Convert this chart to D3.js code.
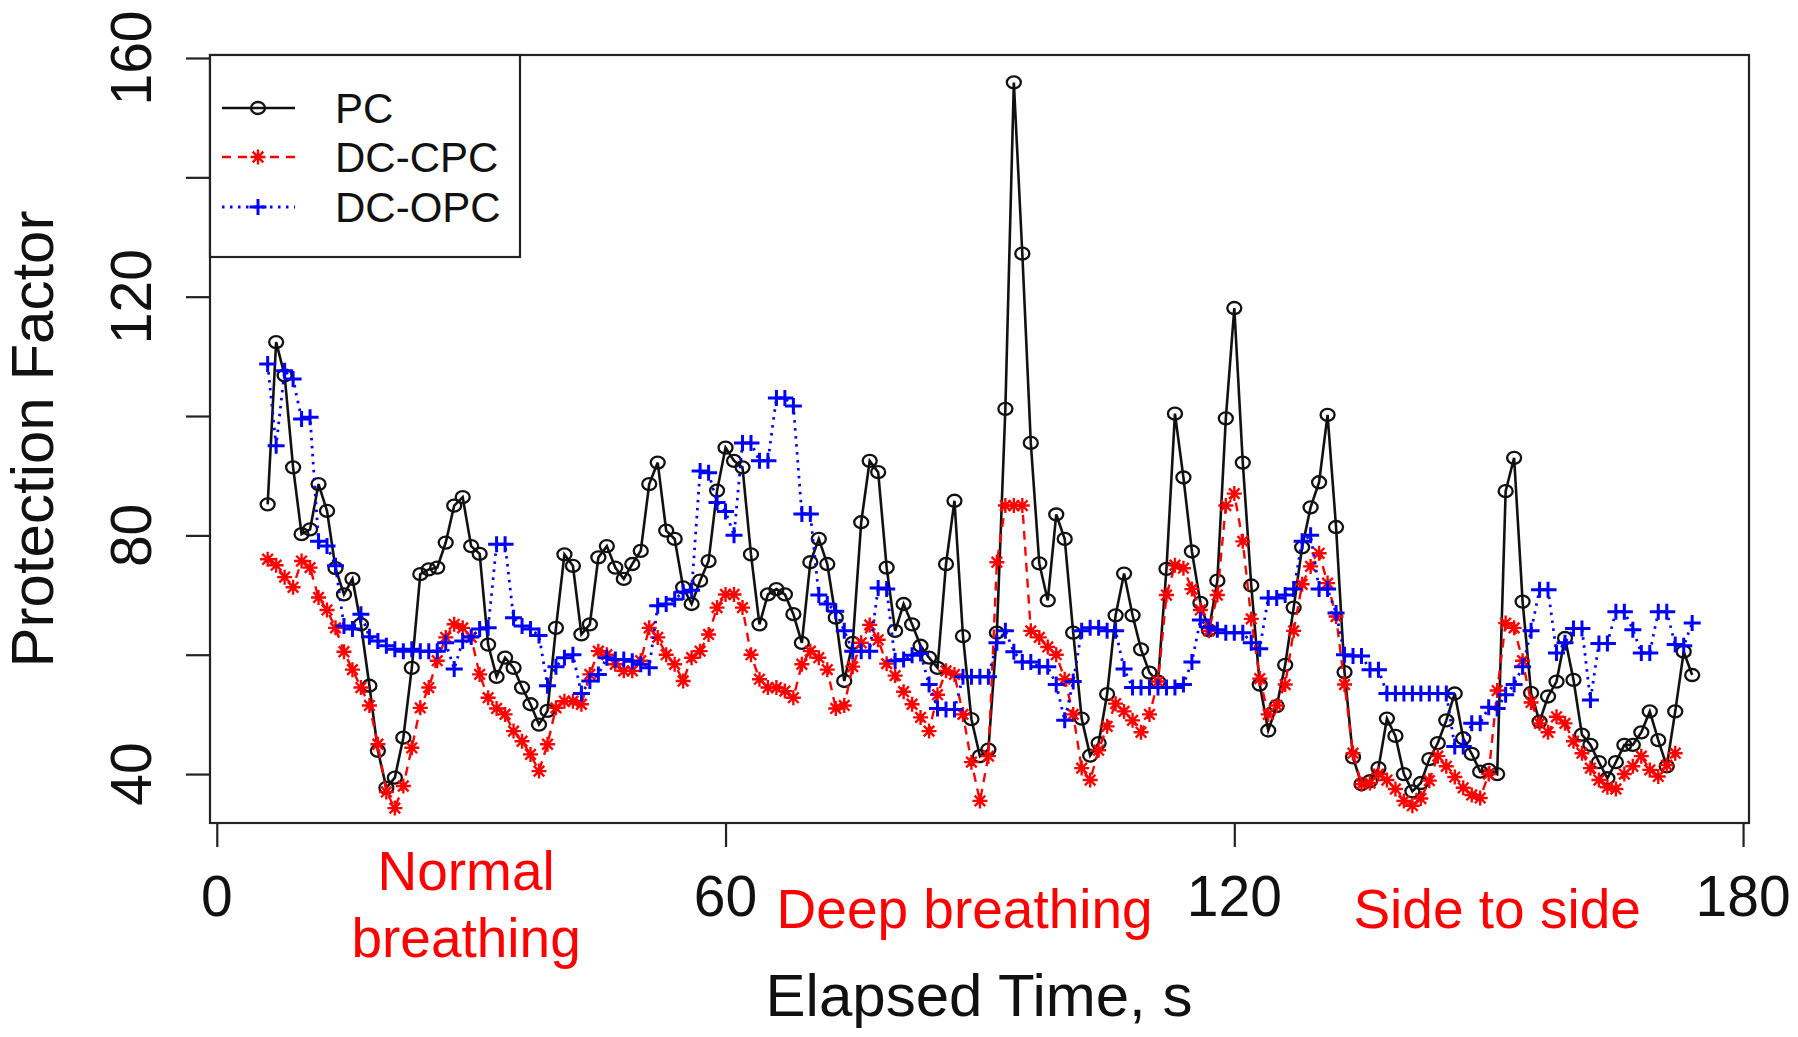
<!DOCTYPE html>
<html>
<head>
<meta charset="utf-8">
<script src="https://cdn.jsdelivr.net/npm/d3@7"></script>
<style>
  html, body { margin: 0; padding: 0; background: #ffffff; }
  svg { display: block; }
  text { font-family: "Liberation Sans", Arial, Helvetica, sans-serif; }
</style>
</head>
<body>
<svg id="chart" width="1798" height="1037"></svg>
<script>
// ---------------- data ----------------
const seriesNames = ["PC", "DC-CPC", "DC-OPC"];

const time = [
  6,7,8,9,10,11,12,13,14,15,16,17,18,19,20,21,22,23,24,25,26,27,28,29,30,31,32,33,34,35,
  36,37,38,39,40,41,42,43,44,45,46,47,48,49,50,51,52,53,54,55,56,57,58,59,60,61,62,63,64,65,
  66,67,68,69,70,71,72,73,74,75,76,77,78,79,80,81,82,83,84,85,86,87,88,89,90,91,92,93,94,95,
  96,97,98,99,100,101,102,103,104,105,106,107,108,109,110,111,112,113,114,115,116,117,118,119,120,121,122,123,124,125,
  126,127,128,129,130,131,132,133,134,135,136,137,138,139,140,141,142,143,144,145,146,147,148,149,150,151,152,153,154,155,
  156,157,158,159,160,161,162,163,164,165,166,167,168,169,170,171,172,173,174
];

const pc = [
  85.2,112.4,106.8,91.4,80.2,81.0,88.6,84.1,74.5,70.1,72.7,65.1,54.8,43.9,37.7,39.4,46.1,57.8,73.5,74.3,74.6,78.8,85.0,86.4,78.2,76.9,61.7,56.3,59.5,57.8,
  54.5,51.7,48.3,50.6,64.5,76.8,74.9,63.4,65.1,76.3,78.2,74.6,72.7,75.2,77.4,88.6,92.2,80.8,79.4,71.3,68.5,72.4,75.7,87.5,94.7,92.5,91.4,76.8,65.1,70.1,
  71.0,70.1,66.8,62.0,75.5,79.4,75.2,66.2,55.6,62.0,82.2,92.5,90.6,74.6,64.0,68.5,65.1,61.5,59.5,57.8,75.2,85.8,63.1,49.2,43.0,44.1,63.7,101.2,155.9,127.2,
  95.5,75.3,69.1,83.5,79.4,63.7,49.3,43.1,45.2,53.4,66.6,73.6,66.6,60.9,57.0,55.5,74.4,100.4,89.7,77.3,68.7,64.1,72.4,99.6,118.1,92.2,71.6,55.0,47.3,51.4,
  58.3,67.9,78.0,84.7,88.9,100.2,81.4,57.1,42.8,38.3,38.8,41.0,49.3,46.4,40.0,37.1,38.5,42.5,45.2,49.0,53.5,46.0,43.4,40.4,40.7,40.0,87.4,93.0,68.9,53.6,
  48.8,53.0,55.5,62.8,55.8,46.6,44.9,42.0,39.3,42.0,44.9,44.9,47.0,50.5,45.7,41.3,50.5,60.5,56.6
];

const dcCpc = [
  76,75,73,71.3,75.7,74.6,69.6,67.5,64.5,60.5,57.5,54.5,51.5,45,37,34.3,38,44.4,51.1,54.5,59,62.9,65.1,64.5,62.9,56.7,52.8,51,50,47.2,
  45.5,43.3,40.5,45,51.1,52.2,52.2,51.7,56.7,60.6,60,58.4,57.3,57.3,59,64.5,62.9,60,58.4,55.6,59.5,60.6,63.4,67.9,70.1,70.1,67.9,60,55.9,54.5,
  54.5,53.9,52.8,58.4,60.6,59.5,57.5,51,51.5,58,62,65,62.5,58.5,56.5,53.8,51.7,49.5,47.2,53.3,57.3,56.7,50,42,35.5,43,75.5,85,85,85,
  64,62.9,61.3,60,55.9,50,41,39,44,48,51.8,50.5,49,47,50,55.5,70,75,74.5,71,67.5,64,70,85,87,79,66,56,50,51.5,
  55,64,71.8,74.8,77,72,66.4,55,43.5,38.3,38.5,40,39,37.5,35.5,34.7,35.9,38.9,43,41.3,39.5,37.7,36.5,36,40,54,65.3,64.5,59,52,
  48.5,47,49.6,48.5,45.5,43.5,41,39,37.8,37.5,40,41.3,43,40.7,39.6,41.5,43.5,null,null
];

const dcOpc = [
  108.7,95,107.6,106.2,99.5,99.8,79,78.2,74.9,64.8,64.3,66.8,63,62.3,61.5,60.9,60.6,60.9,60.6,60.6,60.6,62,57.6,62.3,63,64.3,64.5,78.5,78.5,66.2,
  64.8,64.3,63.2,54.8,58,59.5,60,53.5,55.6,56.7,59.5,59.2,59.2,58.9,58.4,57.8,68.2,68.5,69.3,70.5,70.8,90.8,90.5,85.5,84,80,95.5,95.5,92.5,92.5,
  103,103,101.7,83.6,83.6,70,68.5,67.3,64,60.6,60.6,60.6,71.2,71,59,59.2,59.9,60.2,55,51,50.8,50.8,56.3,56.3,56.3,56.3,62,64,60.5,58.8,
  58.8,58,58,55,49,55.5,64,64.5,64.5,64,64,57.6,54.5,54.5,54.5,54.5,54.5,54.5,55,58.8,65.8,64.6,64.2,63.7,63.7,63.7,62,61,69.5,69.5,
  70,71,79,80,71,71,67,60,59.8,59.8,57.5,57.5,53.5,53.5,53.5,53.5,53.5,53.5,53.5,53.5,44.6,44.6,48.5,48.5,51.2,51,53.3,55,58,64,
  70.9,70.9,60.3,62,64.4,64.4,52.4,61.9,61.9,67.2,67.2,64.2,60.3,60.3,67.2,67.2,61.7,61.5,65.3
];

const xTicks = [0, 60, 120, 180];
const yTicks = [40, 60, 80, 100, 120, 140, 160];
const yTickLabels = [40, 80, 120, 160];
const xLim = [-0.8, 180.7];
const yLim = [31.8, 160.5];

const phaseLines = [["Normal", "breathing"], ["Deep breathing"], ["Side to side"]];
const phaseCenters = [29.4, 88.2, 151.0];   // seconds

// ---------------- layout ----------------
const svg = d3.select("#chart");
svg.append("rect").attr("width", 1798).attr("height", 1037).attr("fill", "#fff");

const box = { left: 210, right: 1749, top: 55, bottom: 823 };
const x = d3.scaleLinear().domain(xLim).range([box.left, box.right]);
const y = d3.scaleLinear().domain(yLim).range([box.bottom, box.top]);

const rows = time.map((t, i) => ({ t, pc: pc[i], cpc: dcCpc[i], opc: dcOpc[i] }));

// ---------------- series ----------------
const plot = svg.append("g");

function lineFor(key) {
  return d3.line().defined(d => d[key] != null).x(d => x(d.t)).y(d => y(d[key]));
}

const starPath = "M-7.5,0H7.5M0,-7.5V7.5M-5.3,-5.3L5.3,5.3M-5.3,5.3L5.3,-5.3";
const plusPath = "M-8.5,0H8.5M0,-8V8";

// PC
plot.append("path").datum(rows).attr("d", lineFor("pc"))
  .attr("fill", "none").attr("stroke", "#111").attr("stroke-width", 2.6);
plot.append("g").selectAll("ellipse").data(rows.filter(d => d.pc != null)).join("ellipse")
  .attr("cx", d => x(d.t)).attr("cy", d => y(d.pc)).attr("rx", 7).attr("ry", 6)
  .attr("fill", "none").attr("stroke", "#111").attr("stroke-width", 2.3);

// DC-CPC
plot.append("path").datum(rows).attr("d", lineFor("cpc"))
  .attr("fill", "none").attr("stroke", "#ff0000").attr("stroke-width", 2.4)
  .attr("stroke-dasharray", "9,7");
plot.append("g").selectAll("path").data(rows.filter(d => d.cpc != null)).join("path")
  .attr("transform", d => `translate(${x(d.t)},${y(d.cpc)})`)
  .attr("d", starPath).attr("stroke", "#ff0000").attr("stroke-width", 2.4).attr("fill", "none");

// DC-OPC
plot.append("path").datum(rows).attr("d", lineFor("opc"))
  .attr("fill", "none").attr("stroke", "#0000ff").attr("stroke-width", 2.8)
  .attr("stroke-dasharray", "2.5,5.5");
plot.append("g").selectAll("path").data(rows.filter(d => d.opc != null)).join("path")
  .attr("transform", d => `translate(${x(d.t)},${y(d.opc)})`)
  .attr("d", plusPath).attr("stroke", "#0000ff").attr("stroke-width", 3).attr("fill", "none");

// ---------------- box & axes ----------------
svg.append("rect")
  .attr("x", box.left).attr("y", box.top)
  .attr("width", box.right - box.left).attr("height", box.bottom - box.top)
  .attr("fill", "none").attr("stroke", "#222").attr("stroke-width", 2.2);

const gx = svg.append("g").attr("transform", `translate(0,${box.bottom})`)
  .call(d3.axisBottom(x).tickValues(xTicks).tickSize(24).tickSizeOuter(0).tickFormat(""));
gx.select(".domain").remove();
gx.selectAll(".tick line").attr("stroke", "#222").attr("stroke-width", 2.2);
svg.append("line").attr("x1", x(xTicks[0])).attr("x2", x(xTicks[xTicks.length - 1]))
  .attr("y1", box.bottom).attr("y2", box.bottom).attr("stroke", "#222").attr("stroke-width", 2.2);

svg.append("g").selectAll("text").data(xTicks).join("text")
  .attr("x", d => x(d)).attr("y", 916)
  .attr("text-anchor", "middle").attr("font-size", 57).attr("fill", "#111")
  .text(d => d);

const gy = svg.append("g").attr("transform", `translate(${box.left},0)`)
  .call(d3.axisLeft(y).tickValues(yTicks).tickSize(24).tickSizeOuter(0).tickFormat(""));
gy.select(".domain").remove();
gy.selectAll(".tick line").attr("stroke", "#222").attr("stroke-width", 2.2);

svg.append("g").selectAll("text").data(yTickLabels).join("text")
  .attr("transform", d => `translate(151,${y(d)}) rotate(-90)`)
  .attr("text-anchor", "middle").attr("font-size", 57).attr("fill", "#111")
  .text(d => d);

// axis titles
svg.append("text").attr("x", 979).attr("y", 1016).attr("text-anchor", "middle")
  .attr("font-size", 60).attr("fill", "#111").text("Elapsed Time, s");
svg.append("text").attr("transform", "translate(53,439) rotate(-90)").attr("text-anchor", "middle")
  .attr("font-size", 60).attr("fill", "#111").text("Protection Factor");

// phase annotations
const phaseG = svg.append("g");
phaseLines.forEach((lines, i) => {
  const cx = x(phaseCenters[i]);
  if (lines.length === 2) {
    lines.forEach((s, j) => {
      phaseG.append("text").attr("x", cx).attr("y", 890 + j * 67)
        .attr("text-anchor", "middle").attr("font-size", 55).attr("fill", "#ff0000").text(s);
    });
  } else {
    phaseG.append("text").attr("x", cx).attr("y", 928)
      .attr("text-anchor", "middle").attr("font-size", 55).attr("fill", "#ff0000").text(lines[0]);
  }
});

// ---------------- legend ----------------
const leg = svg.append("g");
leg.append("rect").attr("x", box.left).attr("y", box.top).attr("width", 310).attr("height", 202)
  .attr("fill", "#fff").attr("stroke", "#222").attr("stroke-width", 2.2);

const legRows = [
  { name: seriesNames[0], color: "#111", dash: null, marker: "circle", yy: 108 },
  { name: seriesNames[1], color: "#ff0000", dash: "9,7", marker: "star", yy: 157 },
  { name: seriesNames[2], color: "#0000ff", dash: "2.5,5.5", marker: "plus", yy: 207 }
];
legRows.forEach(r => {
  leg.append("line").attr("x1", 222).attr("x2", 295).attr("y1", r.yy).attr("y2", r.yy)
    .attr("stroke", r.color).attr("stroke-width", r.marker === "plus" ? 2.8 : 2.4)
    .attr("stroke-dasharray", r.dash);
  if (r.marker === "circle") {
    leg.append("ellipse").attr("cx", 258).attr("cy", r.yy).attr("rx", 7).attr("ry", 6)
      .attr("fill", "none").attr("stroke", r.color).attr("stroke-width", 2.3);
  } else {
    leg.append("path").attr("transform", `translate(258,${r.yy})`)
      .attr("d", r.marker === "star" ? starPath : plusPath)
      .attr("stroke", r.color).attr("stroke-width", r.marker === "plus" ? 3 : 2.4).attr("fill", "none");
  }
  leg.append("text").attr("x", 335).attr("y", r.yy + 15).attr("font-size", 42).attr("fill", "#111")
    .text(r.name);
});
</script>
</body>
</html>
